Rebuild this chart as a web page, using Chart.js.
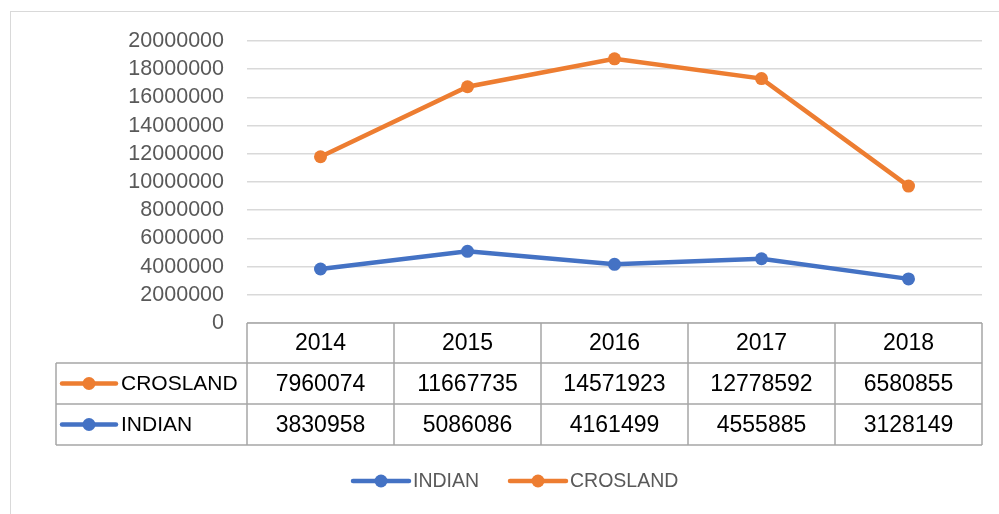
<!DOCTYPE html>
<html>
<head>
<meta charset="utf-8">
<script src="https://cdn.jsdelivr.net/npm/chart.js@4/dist/chart.umd.min.js"></script>
<style>
  html, body { margin: 0; padding: 0; background: #fff; }
  #wrap { position: relative; width: 999px; height: 514px; overflow: hidden; }
  #frame { position: absolute; left: 10px; top: 11px; width: 1000px; height: 520px; border: 1.5px solid #d9d9d9; box-sizing: border-box; }
  canvas { position: absolute; left: 0; top: 0; }
</style>
</head>
<body>
<div id="wrap">
  <div id="frame"></div>
  <canvas id="c" width="999" height="514"></canvas>
</div>
<script>
const years = ['2014', '2015', '2016', '2017', '2018'];
const indian = [3830958, 5086086, 4161499, 4555885, 3128149];
const crosland = [7960074, 11667735, 14571923, 12778592, 6580855];
const yTicksMax = 20000000;
const yTicksStep = 2000000;

const BLUE = '#4472c4';
const ORANGE = '#ed7d31';
const FONT = '"Liberation Sans", Arial, sans-serif';

// table rows in display order (top to bottom)
const tableRows = [
  { label: 'CROSLAND', values: crosland, color: ORANGE },
  { label: 'INDIAN', values: indian, color: BLUE }
];

function drawSymbol(ctx, x1, x2, y, color) {
  ctx.save();
  ctx.strokeStyle = color;
  ctx.lineWidth = 4.5;
  ctx.lineCap = 'round';
  ctx.beginPath();
  ctx.moveTo(x1, y);
  ctx.lineTo(x2, y);
  ctx.stroke();
  ctx.fillStyle = color;
  ctx.beginPath();
  ctx.arc((x1 + x2) / 2, y, 6.5, 0, Math.PI * 2);
  ctx.fill();
  ctx.restore();
}

const tablePlugin = {
  id: 'dataTable',
  afterDraw(chart) {
    const ctx = chart.ctx;
    const xs = chart.scales.x;
    const left = xs.left, right = xs.right;
    const band = (right - left) / years.length;
    const top = chart.chartArea.bottom;
    const rowH = [40, 41, 41];
    const labelLeft = 56;
    const y0 = top, y1 = y0 + rowH[0], y2 = y1 + rowH[1], y3 = y2 + rowH[2];

    ctx.save();
    ctx.strokeStyle = '#a6a6a6';
    ctx.lineWidth = 1.5;
    ctx.beginPath();
    ctx.moveTo(left, y0); ctx.lineTo(right, y0);
    ctx.moveTo(labelLeft, y1); ctx.lineTo(right, y1);
    ctx.moveTo(labelLeft, y2); ctx.lineTo(right, y2);
    ctx.moveTo(labelLeft, y3); ctx.lineTo(right, y3);
    for (let i = 0; i <= years.length; i++) {
      const x = left + band * i;
      ctx.moveTo(x, y0); ctx.lineTo(x, y3);
    }
    ctx.moveTo(labelLeft, y1); ctx.lineTo(labelLeft, y3);
    ctx.stroke();

    ctx.fillStyle = '#000';
    ctx.textAlign = 'center';
    ctx.textBaseline = 'middle';
    ctx.font = '23px ' + FONT;
    years.forEach((yr, i) => {
      const cx = xs.getPixelForValue(i);
      ctx.fillText(yr, cx, (y0 + y1) / 2 + 1);
    });
    const rowTops = [y1, y2];
    tableRows.forEach((row, r) => {
      const cy = rowTops[r] + rowH[r + 1] / 2 + 1;
      ctx.textAlign = 'center';
      ctx.font = '23px ' + FONT;
      row.values.forEach((v, i) => {
        ctx.fillText(String(v), xs.getPixelForValue(i), cy);
      });
      drawSymbol(ctx, 62, 116, cy - 1, row.color);
      ctx.textAlign = 'left';
      ctx.font = '21px ' + FONT;
      ctx.fillText(row.label, 121, cy);
    });

    // bottom legend
    const ly = 481;
    ctx.font = '19.5px ' + FONT;
    ctx.fillStyle = '#595959';
    ctx.textAlign = 'left';
    const items = [
      { label: chart.data.datasets[0].label, color: chart.data.datasets[0].borderColor, x: 353 },
      { label: chart.data.datasets[1].label, color: chart.data.datasets[1].borderColor, x: 510 }
    ];
    items.forEach(it => {
      drawSymbol(ctx, it.x, it.x + 56, ly, it.color);
      ctx.fillText(it.label, it.x + 60, ly + 1);
    });
    ctx.restore();
  }
};

new Chart(document.getElementById('c'), {
  type: 'line',
  data: {
    labels: years,
    datasets: [
      { label: 'INDIAN', data: indian, borderColor: BLUE, backgroundColor: BLUE,
        borderWidth: 4.5, pointRadius: 6.5, pointHoverRadius: 6.5, pointBorderWidth: 0, fill: false, tension: 0 },
      { label: 'CROSLAND', data: crosland, borderColor: ORANGE, backgroundColor: ORANGE,
        borderWidth: 4.5, pointRadius: 6.5, pointHoverRadius: 6.5, pointBorderWidth: 0, fill: false, tension: 0 }
    ]
  },
  options: {
    responsive: false,
    animation: false,
    devicePixelRatio: 1,
    layout: { padding: { left: 0, right: 17, top: 41, bottom: 191 } },
    plugins: { legend: { display: false }, tooltip: { enabled: false } },
    scales: {
      x: {
        display: false,
        offset: true
      },
      y: {
        stacked: true,
        min: 0,
        max: yTicksMax,
        border: { display: false },
        grid: { color: '#d9d9d9', lineWidth: 1.5, drawTicks: false },
        ticks: {
          stepSize: yTicksStep,
          autoSkip: false,
          padding: 23,
          color: '#595959',
          font: { family: FONT, size: 21.5 },
          callback: v => String(v)
        },
        afterFit: s => { s.width = 247; }
      }
    }
  },
  plugins: [tablePlugin]
});
</script>
</body>
</html>
